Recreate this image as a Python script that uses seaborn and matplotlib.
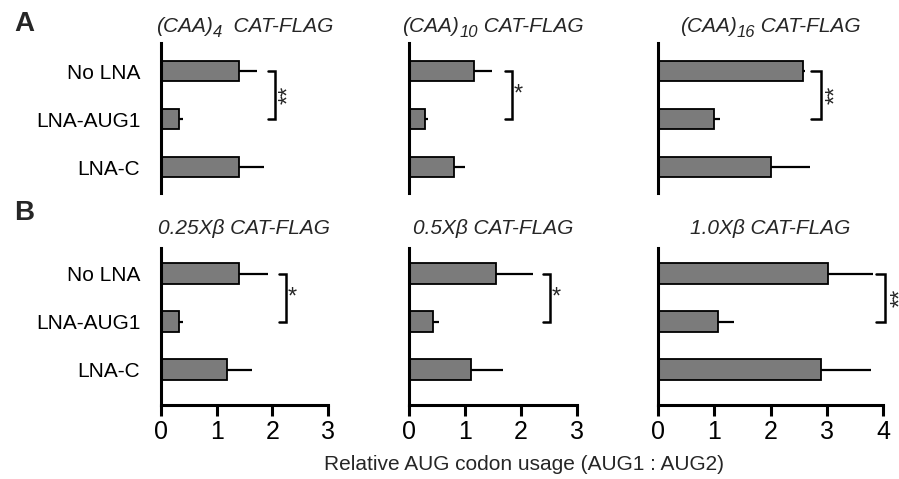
import matplotlib
matplotlib.use("Agg")
import matplotlib.pyplot as plt
import seaborn as sns
import pandas as pd
import numpy as np

sns.set_style("white")
plt.rcParams['font.family'] = ['Liberation Sans', 'DejaVu Sans']

categories = ["No LNA", "LNA-AUG1", "LNA-C"]
# titles as (text, is_subscript) pieces
titles = [[("(CAA)", False), ("4", True), ("  CAT-FLAG", False)],
          [("(CAA)", False), ("10", True), (" CAT-FLAG", False)],
          [("(CAA)", False), ("16", True), (" CAT-FLAG", False)],
          [("0.25X\u03b2 CAT-FLAG", False)],
          [("0.5X\u03b2 CAT-FLAG", False)],
          [("1.0X\u03b2 CAT-FLAG", False)]]

vals_A1 = [1.40, 0.32, 1.40]
err_A1 = [0.32, 0.08, 0.45]
vals_A2 = [1.16, 0.29, 0.80]
err_A2 = [0.32, 0.05, 0.20]
vals_A3 = [2.58, 1.00, 2.01]
err_A3 = [0.03, 0.10, 0.69]
vals_B1 = [1.40, 0.33, 1.18]
err_B1 = [0.52, 0.07, 0.46]
vals_B2 = [1.55, 0.43, 1.10]
err_B2 = [0.66, 0.10, 0.58]
vals_B3 = [3.02, 1.07, 2.90]
err_B3 = [0.81, 0.28, 0.89]

xmax = [3, 3, 4, 3, 3, 4]
stars = ["**", "*", "**", "*", "*", "**"]
bracket_x = [2.05, 1.84, 2.90, 2.25, 2.52, 4.04]

values = [vals_A1, vals_A2, vals_A3, vals_B1, vals_B2, vals_B3]
errors = [err_A1, err_A2, err_A3, err_B1, err_B2, err_B3]

W, H = 899, 479
fig = plt.figure(figsize=(W / 100, H / 100), dpi=100)
renderer = fig.canvas.get_renderer()

col_px = [(161, 328), (409, 577), (658, 883)]
row_px = [(43, 193), (248, 405)]
title_y = [32, 234]
ylims = [(2.54, -0.583), (2.73, -0.53)]

bar_color = "#7b7b7b"
lw = 2.2
title_size = 15


def chain_title(pieces, xc_px, y_px):
    texts = []
    for s, sub in pieces:
        t = fig.text(0, 0, s, fontsize=title_size * (0.8 if sub else 1.0),
                     fontstyle="italic", ha="left", va="baseline")
        texts.append((t, sub))
    widths = [t.get_window_extent(renderer).width for t, _ in texts]
    x = xc_px - sum(widths) / 2
    for (t, sub), w in zip(texts, widths):
        yy = y_px + (5 if sub else 0)
        t.set_position((x / W, 1 - yy / H))
        x += w


for i in range(6):
    r, c = divmod(i, 3)
    x0, x1 = col_px[c]
    y0, y1 = row_px[r]
    ax = fig.add_axes([x0 / W, 1 - y1 / H, (x1 - x0) / W, (y1 - y0) / H])
    df = pd.DataFrame({"cond": categories, "val": values[i]})
    sns.barplot(data=df, x="val", y="cond", orient="h", ax=ax, color=bar_color,
                width=0.43, edgecolor="black", linewidth=1.3, saturation=1)
    ax.errorbar(values[i], np.arange(3), xerr=[np.zeros(3), errors[i]], fmt="none",
                ecolor="black", elinewidth=1.6, capsize=0, zorder=1)
    for p in ax.patches:
        p.set_zorder(2)
    ax.set_xlim(0, xmax[i])
    ax.set_ylim(*ylims[r])
    ax.set_xlabel("")
    ax.set_ylabel("")
    for s in ["top", "right"]:
        ax.spines[s].set_visible(False)
    ax.spines["left"].set_linewidth(lw)
    ax.spines["left"].set_color("black")
    if r == 0:
        ax.spines["bottom"].set_visible(False)
        ax.set_xticks([])
    else:
        ax.spines["bottom"].set_linewidth(lw)
        ax.spines["bottom"].set_color("black")
        ax.set_xticks(range(xmax[i] + 1))
        ax.tick_params(axis="x", length=8, width=lw, direction="out", labelsize=18,
                       pad=3, colors="black", bottom=True)
    if c == 0:
        ax.tick_params(axis="y", length=0, labelsize=15, pad=15, labelcolor="black")
    else:
        ax.set_yticklabels([])
        ax.tick_params(axis="y", length=0)
    chain_title(titles[i], (x0 + x1) / 2, title_y[r])
    # significance bracket
    bx = bracket_x[i]
    dx = 0.13 * xmax[i] / 3
    ax.plot([bx - dx, bx, bx, bx - dx], [0, 0, 1, 1], color="black", lw=1.8,
            clip_on=False, solid_joinstyle="miter")
    if stars[i] == "**":
        ax.text(bx + 0.06 * xmax[i] / 3, 0.5, "**", rotation=90, ha="left", va="center",
                fontsize=17, clip_on=False)
    else:
        ax.text(bx + 0.03, 0.5, "*", ha="left", va="center", fontsize=17,
                clip_on=False)

fig.text(14 / W, 1 - 24 / H, "A", fontsize=20, fontweight="bold", va="center")
fig.text(14 / W, 1 - 213 / H, "B", fontsize=20, fontweight="bold", va="center")
fig.text(524 / W, 1 - 465 / H, "Relative AUG codon usage (AUG1 : AUG2)", fontsize=15,
         ha="center", va="center")

fig.savefig("out.png", dpi=100)
